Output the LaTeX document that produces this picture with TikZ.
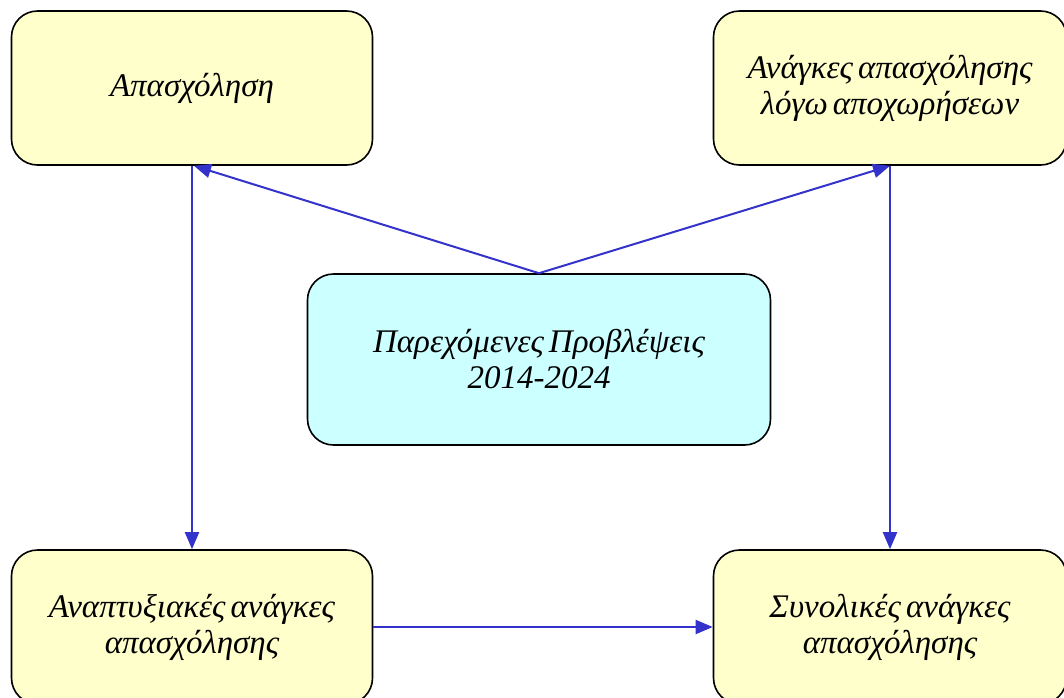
\documentclass[tikz,border=0pt]{standalone}
\usepackage{fontspec}
\setmainfont{Liberation Serif}[WordSpace=0.6]
\usetikzlibrary{arrows.meta}
\definecolor{boxy}{HTML}{FFFFCC}
\definecolor{boxc}{HTML}{CCFFFF}
\definecolor{arr}{HTML}{3333CC}
\begin{document}
\begin{tikzpicture}[x=1pt,y=-1pt,
  box/.style={draw=black, line width=1.6pt, rounded corners=26pt, fill=boxy,
    minimum width=361pt, minimum height=154pt, align=center, inner sep=0pt,
    font=\fontsize{33}{36}\selectfont\itshape},
  conn/.style={draw=arr, line width=2pt, -{Triangle[length=17pt,width=14pt]}}]
\useasboundingbox (0,0) rectangle (1064,697);
\clip (0,0) rectangle (1064,697);
\node[box] (a) at (192,88) {Απασχόληση};
\node[box, minimum width=353pt] (b) at (890,88) {Ανάγκες απασχόλησης\\λόγω αποχωρήσεων};
\node[box, fill=boxc, minimum width=463pt, minimum height=171pt] (c) at (539,359.5) {Παρεχόμενες Προβλέψεις\\2014-2024};
\node[box] (d) at (192,627) {Αναπτυξιακές ανάγκες\\απασχόλησης};
\node[box, minimum width=353pt] (e) at (890,627) {Συνολικές ανάγκες\\απασχόλησης};
\draw[conn] (c.north) -- ([xshift=2pt]a.south);
\draw[conn] (c.north) -- (b.south);
\draw[conn] (a.south) -- (d.north);
\draw[conn] (b.south) -- (e.north);
\draw[conn] (d.east) -- (e.west);
\end{tikzpicture}
\end{document}
